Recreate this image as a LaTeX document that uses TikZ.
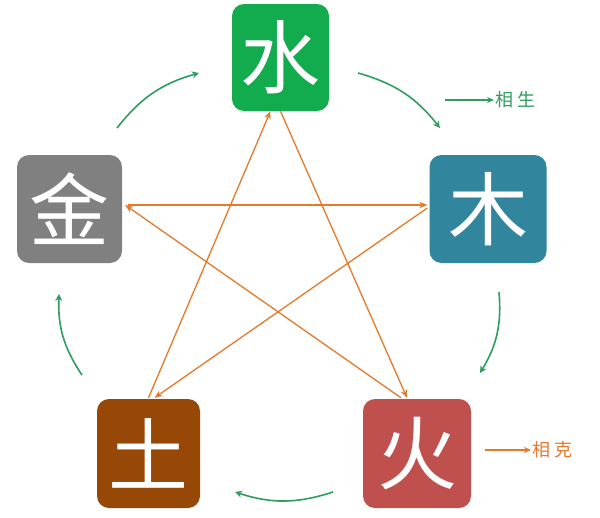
\documentclass[tikz,border=0pt]{standalone}
\usepackage{fontspec}
\newfontfamily\cjk{Noto Sans CJK SC}
\usetikzlibrary{arrows.meta,calc}
\definecolor{cshui}{HTML}{12AB4E}
\definecolor{cmu}{HTML}{31859C}
\definecolor{cjin}{HTML}{808080}
\definecolor{ctu}{HTML}{974806}
\definecolor{chuo}{HTML}{C0504D}
\definecolor{corange}{HTML}{E47A2A}
\definecolor{cgreen}{HTML}{2E9D5E}
\tikzset{
  elem/.style={rounded corners=12pt, inner sep=0pt, text=white,
    font=\cjk\fontsize{80}{80}\selectfont},
  ke/.style={draw=corange, line width=1.3pt, -{Stealth[length=8pt,width=6.5pt]}},
  sheng/.style={draw=cgreen, line width=1.6pt, -{Stealth[length=7pt,width=7pt]}, bend left=18},
  legtext/.style={font=\cjk\fontsize{18}{18}\selectfont, inner sep=1pt, anchor=west}
}
\begin{document}
\begin{tikzpicture}[x=1pt,y=-1pt]
\useasboundingbox (0,0) rectangle (600,517);
\fill[white] (0,0) rectangle (600,517);
% element boxes
\node[elem, fill=cshui, minimum width=97pt, minimum height=107pt] (shui) at (280.5,57.5) {水};
\node[elem, fill=cjin, minimum width=105pt, minimum height=108pt] (jin) at (69.5,209) {金};
\node[elem, fill=cmu, minimum width=117pt, minimum height=108pt] (mu) at (488,209) {木};
\node[elem, fill=ctu, minimum width=103pt, minimum height=109pt] (tu) at (148.5,453.5) {土};
\node[elem, fill=chuo, minimum width=108pt, minimum height=109pt] (huo) at (417,453.5) {火};
% restraint (xiang ke) star
\draw[ke] ($(shui.south)+(0,0)$) -- ($(huo.north)+(-10,-1)$);
\draw[ke] ($(huo.north)+(-16,-1)$) -- ($(jin.east)+(3,-4)$);
\draw[ke] ($(jin.east)+(6,-4)$) -- ($(mu.west)+(-2,-4)$);
\draw[ke] ($(mu.west)+(-2,-1)$) -- ($(tu.north)+(6,-1)$);
\draw[ke] ($(tu.north)+(0,-1)$) -- ($(shui.south)+(-10,0)$);
% generation (xiang sheng) cycle
\coordinate (g1a) at (117,128); \coordinate (g1b) at (199,73);
\coordinate (g2a) at (358,73);  \coordinate (g2b) at (440,128);
\coordinate (g3a) at (499,292); \coordinate (g3b) at (480,373);
\coordinate (g4a) at (333,492); \coordinate (g4b) at (235,492);
\coordinate (g5a) at (82,375);  \coordinate (g5b) at (59,294);
\draw[sheng] (g1a) to (g1b);
\draw[sheng] (g2a) to (g2b);
\draw[sheng] (g3a) to (g3b);
\draw[sheng] (g4a) to (g4b);
\draw[sheng] (g5a) to (g5b);
% legend
\coordinate (l1) at (445,100);
\node[legtext, text=cgreen] (lg1) at (494,100) {相\kern4pt 生};
\draw[draw=cgreen, line width=1.6pt, -{Stealth[length=7pt,width=6pt]}] (l1) -- (lg1.west);
\coordinate (l2) at (485,450);
\node[legtext, text=corange] (lg2) at (531,450) {相\kern4pt 克};
\draw[draw=corange, line width=1.6pt, -{Stealth[length=7pt,width=6pt]}] (l2) -- (lg2.west);
\end{tikzpicture}
\end{document}
